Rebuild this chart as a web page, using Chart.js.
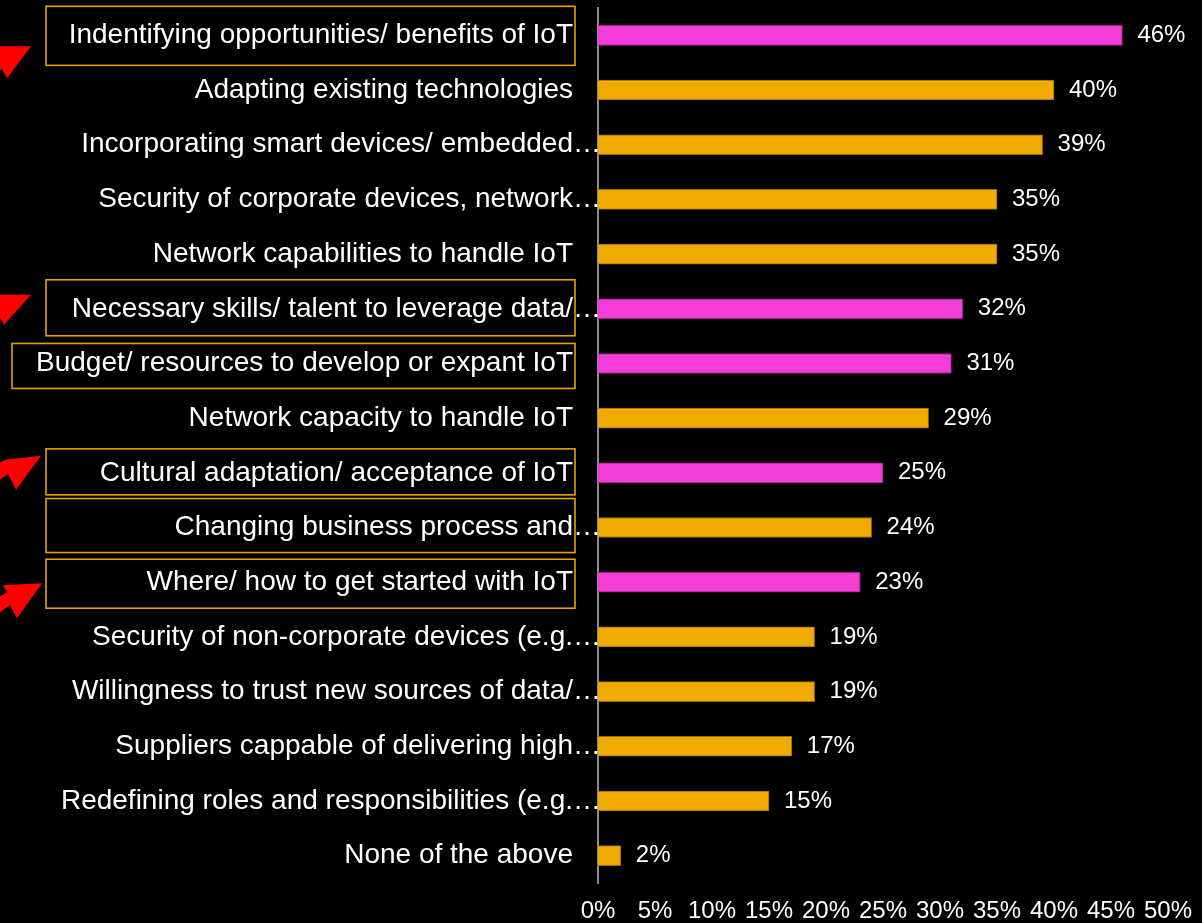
<!DOCTYPE html>
<html>
<head>
<meta charset="utf-8">
<title>IoT challenges</title>
<script src="https://cdn.jsdelivr.net/npm/chart.js@4.4.1/dist/chart.umd.min.js"></script>
<style>
  html, body { margin: 0; padding: 0; background: #000; }
  #wrap { width: 1202px; height: 923px; }
</style>
</head>
<body>
<div id="wrap"><canvas id="barChart" width="1202" height="923"></canvas></div>
<script>
var categories = [
  "Indentifying opportunities/ benefits of IoT",
  "Adapting existing technologies",
  "Incorporating smart devices/ embedded\u2026",
  "Security of corporate devices, network\u2026",
  "Network capabilities to handle IoT",
  "Necessary skills/ talent to leverage data/\u2026",
  "Budget/ resources to develop or expant IoT",
  "Network capacity to handle IoT",
  "Cultural adaptation/ acceptance of IoT",
  "Changing business process and\u2026",
  "Where/ how to get started with IoT",
  "Security of non-corporate devices (e.g.\u2026",
  "Willingness to trust new sources of data/\u2026",
  "Suppliers cappable of delivering high\u2026",
  "Redefining roles and responsibilities (e.g.\u2026",
  "None of the above"
];
var values = [46, 40, 39, 35, 35, 32, 31, 29, 25, 24, 23, 19, 19, 17, 15, 2];
// rows shown in pink
var highlighted = [0, 5, 6, 8, 10];
var tickValues = [0, 5, 10, 15, 20, 25, 30, 35, 40, 45, 50];

var ORANGE = "#f0ab00";
var PINK = "#f23ed6";
var FONT = "'Liberation Sans', Arial, sans-serif";

// orange boxes round some labels: row, left edge, offsets from the row centre
var boxes = [
  { row: 0, left: 46, up: 29, down: 30 },
  { row: 5, left: 46, up: 29, down: 27 },
  { row: 6, left: 12, up: 20, down: 25 },
  { row: 8, left: 46, up: 24, down: 22 },
  { row: 9, left: 46, up: 29, down: 25 },
  { row: 10, left: 46, up: 23, down: 26 }
];
// red arrow heads cut by the left edge, points relative to row centre
var arrows = [
  { row: 0, pts: [[0, 11], [31, 11], [7, 43], [2, 34], [0, 35]] },
  { row: 5, pts: [[0, -14], [31, -14], [4, 16], [0, 9]] },
  { row: 8, pts: [[41, -17], [5, -13], [0, -10], [0, 7], [8, 1], [16, 17]] },
  { row: 10, pts: [[42, 1], [3, 3], [7, 10], [0, 14], [0, 30], [10, 23], [17, 36]] }
];

var barColors = values.map(function (v, i) {
  return highlighted.indexOf(i) >= 0 ? PINK : ORANGE;
});
var borderColors = values.map(function (v, i) {
  return highlighted.indexOf(i) >= 0 ? "#a3168e" : "#9a6d00";
});

var labelPlugin = {
  id: "labelPlugin",
  afterDraw: function (chart) {
    var ctx = chart.ctx;
    var yScale = chart.scales.y;
    var meta = chart.getDatasetMeta(0);
    ctx.save();

    // boxes first
    ctx.strokeStyle = "#e8a200";
    ctx.lineWidth = 1.6;
    boxes.forEach(function (b) {
      var cy = yScale.getPixelForValue(b.row);
      ctx.strokeRect(b.left, cy - b.up, 575 - b.left, b.up + b.down);
    });

    // arrows
    ctx.fillStyle = "#ff0000";
    arrows.forEach(function (a) {
      var cy = yScale.getPixelForValue(a.row);
      ctx.beginPath();
      a.pts.forEach(function (p, k) {
        if (k == 0) ctx.moveTo(p[0], cy + p[1]);
        else ctx.lineTo(p[0], cy + p[1]);
      });
      ctx.closePath();
      ctx.fill();
    });

    // category labels, ellipsis hangs past the text edge
    ctx.fillStyle = "#ffffff";
    ctx.font = "28px " + FONT;
    ctx.textBaseline = "middle";
    categories.forEach(function (name, i) {
      var cy = yScale.getPixelForValue(i);
      var txt = name;
      var dots = false;
      if (txt.slice(-1) == "\u2026") {
        txt = txt.slice(0, -1);
        dots = true;
      }
      ctx.textAlign = "right";
      ctx.fillText(txt, 573, cy);
      if (dots) {
        ctx.textAlign = "left";
        ctx.fillText("\u2026", 573, cy);
      }
    });

    // value labels
    ctx.font = "24px " + FONT;
    ctx.textAlign = "left";
    meta.data.forEach(function (bar, i) {
      ctx.fillText(values[i] + "%", bar.x + 15, bar.y);
    });
    ctx.restore();
  }
};

var ctx = document.getElementById("barChart").getContext("2d");
var barChart = new Chart(ctx, {
  type: "bar",
  data: {
    labels: categories,
    datasets: [{
      data: values,
      backgroundColor: barColors,
      borderColor: borderColors,
      borderWidth: 1,
      barThickness: 20
    }]
  },
  options: {
    indexAxis: "y",
    responsive: false,
    animation: false,
    layout: {
      padding: { left: 598, right: 34, top: 8, bottom: 0 }
    },
    plugins: {
      legend: { display: false },
      tooltip: { enabled: false }
    },
    scales: {
      x: {
        min: 0,
        max: 50,
        afterBuildTicks: function (axis) {
          axis.ticks = tickValues.map(function (v) { return { value: v }; });
        },
        afterFit: function (axis) {
          axis.height = 40;
          axis.paddingLeft = 0;
          axis.paddingRight = 0;
        },
        grid: { display: false, drawTicks: false },
        border: { display: false },
        ticks: {
          color: "#ffffff",
          padding: 16,
          maxRotation: 0,
          autoSkip: false,
          font: { family: FONT, size: 24, lineHeight: 1 },
          callback: function (v) { return v + "%"; }
        }
      },
      y: {
        grid: { display: false, drawTicks: false },
        border: { display: true, color: "#8c8c8c", width: 2 },
        ticks: { display: false }
      }
    }
  },
  plugins: [labelPlugin]
});
</script>
</body>
</html>
